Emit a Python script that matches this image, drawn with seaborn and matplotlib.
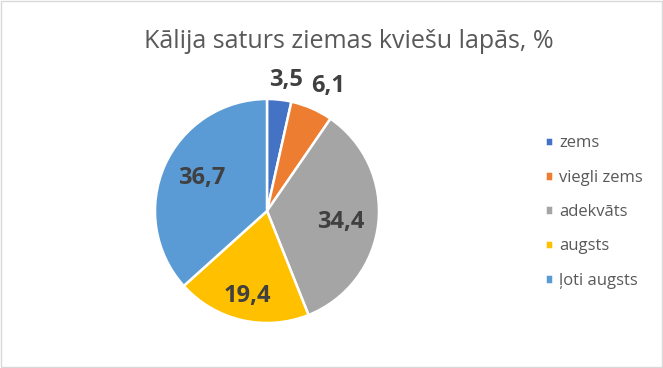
import matplotlib
matplotlib.use("Agg")
import matplotlib.pyplot as plt
import seaborn as sns
import numpy as np

sns.set_theme(style="white")
plt.rcParams['font.family'] = ['Open Sans', 'DejaVu Sans']

# data
categories = ['zems', 'viegli zems', 'adekvāts', 'augsts', 'ļoti augsts']
values = [3.5, 6.1, 34.4, 19.4, 36.7]
value_labels = ['3,5', '6,1', '34,4', '19,4', '36,7']
title = 'Kālija saturs ziemas kviešu lapās, %'

colors = sns.color_palette(['#4472C4', '#ED7D31', '#A5A5A5', '#FFC000', '#5B9BD5'])
# label placement (Excel "best fit"): radial distance and small angle nudge
label_dist = [1.18, 1.24, 0.67, 0.78, 0.65]
label_nudge = [-2, -2.5, -2, 0, -3]

fig = plt.figure(figsize=(6.63, 3.68), dpi=100)
fig.patches.append(plt.Rectangle((0.001, 0.002), 0.997, 0.995, transform=fig.transFigure,
                                 fill=False, edgecolor='#D9D9D9', linewidth=1))

# pie axes: center ~ (267, 211) px, radius ~112 px
cx, cy, r = 267 / 663, 1 - 211 / 368, 112
ax = fig.add_axes([cx - r / 663, cy - r / 368, 2 * r / 663, 2 * r / 368])
wedges, _ = ax.pie(values, colors=colors, startangle=90, counterclock=False,
                   radius=1, wedgeprops=dict(edgecolor='white', linewidth=1.8))
ax.set_xlim(-1, 1)
ax.set_ylim(-1, 1)
ax.set_aspect('auto')
ax.axis('off')

for w, txt, d, nd in zip(wedges, value_labels, label_dist, label_nudge):
    ang = np.deg2rad((w.theta1 + w.theta2) / 2 + nd)
    ax.text(d * np.cos(ang), d * np.sin(ang), txt, ha='center', va='center',
            fontsize=17, fontweight='bold', color='#404040', clip_on=False)

fig.text(349 / 663, 1 - 42 / 368, title, ha='center', va='center',
         fontsize=18, color='#595959')

fig.legend(wedges, categories, loc='center left', bbox_to_anchor=(530 / 663, 1 - 212 / 368),
           frameon=False, fontsize=12, labelcolor='#595959', handlelength=0.5,
           handleheight=0.5, handletextpad=0.35, labelspacing=1.1)

fig.savefig('out.png', dpi=100)
